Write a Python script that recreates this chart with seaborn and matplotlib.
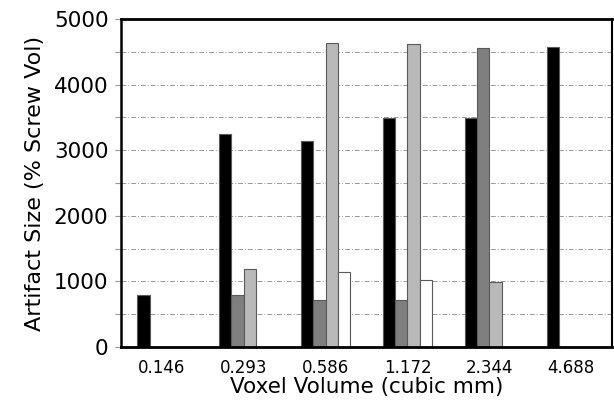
import numpy as np
import pandas as pd
import matplotlib
matplotlib.use("Agg")
import matplotlib.pyplot as plt
from matplotlib.ticker import MultipleLocator
import seaborn as sns

# values
voxel_volumes = ["0.146", "0.293", "0.586", "1.172", "2.344", "4.688"]
series_names = ["s1", "s2", "s3", "s4"]
s1 = [800, 3250, 3140, 3490, 3490, 4580]
s2 = [0, 790, 720, 720, 4560, 0]
s3 = [0, 1190, 4640, 4620, 990, 0]
s4 = [0, 0, 1150, 1020, 0, 0]
bar_colors = ["#000000", "#7f7f7f", "#b9b9b9", "#ffffff"]

rows = []
for name, vals in zip(series_names, [s1, s2, s3, s4]):
    for cat, v in zip(voxel_volumes, vals):
        rows.append({"volume": cat, "series": name, "size": v})
df = pd.DataFrame(rows)

sns.set_style("white")
plt.rcParams["font.family"] = ["DejaVu Sans"]
plt.rcParams["text.color"] = "black"
plt.rcParams["axes.labelcolor"] = "black"
plt.rcParams["xtick.labelcolor"] = "black"
plt.rcParams["ytick.labelcolor"] = "black"

fig = plt.figure(figsize=(6.14, 4.0), dpi=100)
ax = fig.add_axes([0.197, 0.1325, 0.8, 0.82])

sns.barplot(data=df, x="volume", y="size", hue="series", order=voxel_volumes,
            hue_order=series_names, palette=bar_colors, width=0.6, gap=0,
            edgecolor="#5a5a5a", linewidth=0.8, legend=False, ax=ax)

ax.set_ylim(0, 5000)
ax.set_xlim(-0.5, 5.5)
ax.yaxis.set_major_locator(MultipleLocator(1000))
ax.yaxis.set_minor_locator(MultipleLocator(500))
ax.grid(True, axis="y", which="both", color="#999999", linestyle=(0, (5, 2, 1, 2)), lw=0.7)
ax.set_axisbelow(True)

ax.tick_params(axis="y", which="both", left=True, length=4, width=0.8,
               color="#999999", labelsize=15.5, pad=5)
ax.tick_params(axis="x", bottom=False, labelsize=12, pad=5)

ax.set_xlabel("Voxel Volume (cubic mm)", fontsize=15.5, labelpad=0)
ax.set_ylabel("Artifact Size (% Screw Vol)", fontsize=16, labelpad=6)

for side, lw in [("left", 1.8), ("bottom", 2.0), ("top", 2.0), ("right", 1.5)]:
    ax.spines[side].set_visible(True)
    ax.spines[side].set_color("black")
    ax.spines[side].set_linewidth(lw)

fig.savefig("out.png", dpi=100)
